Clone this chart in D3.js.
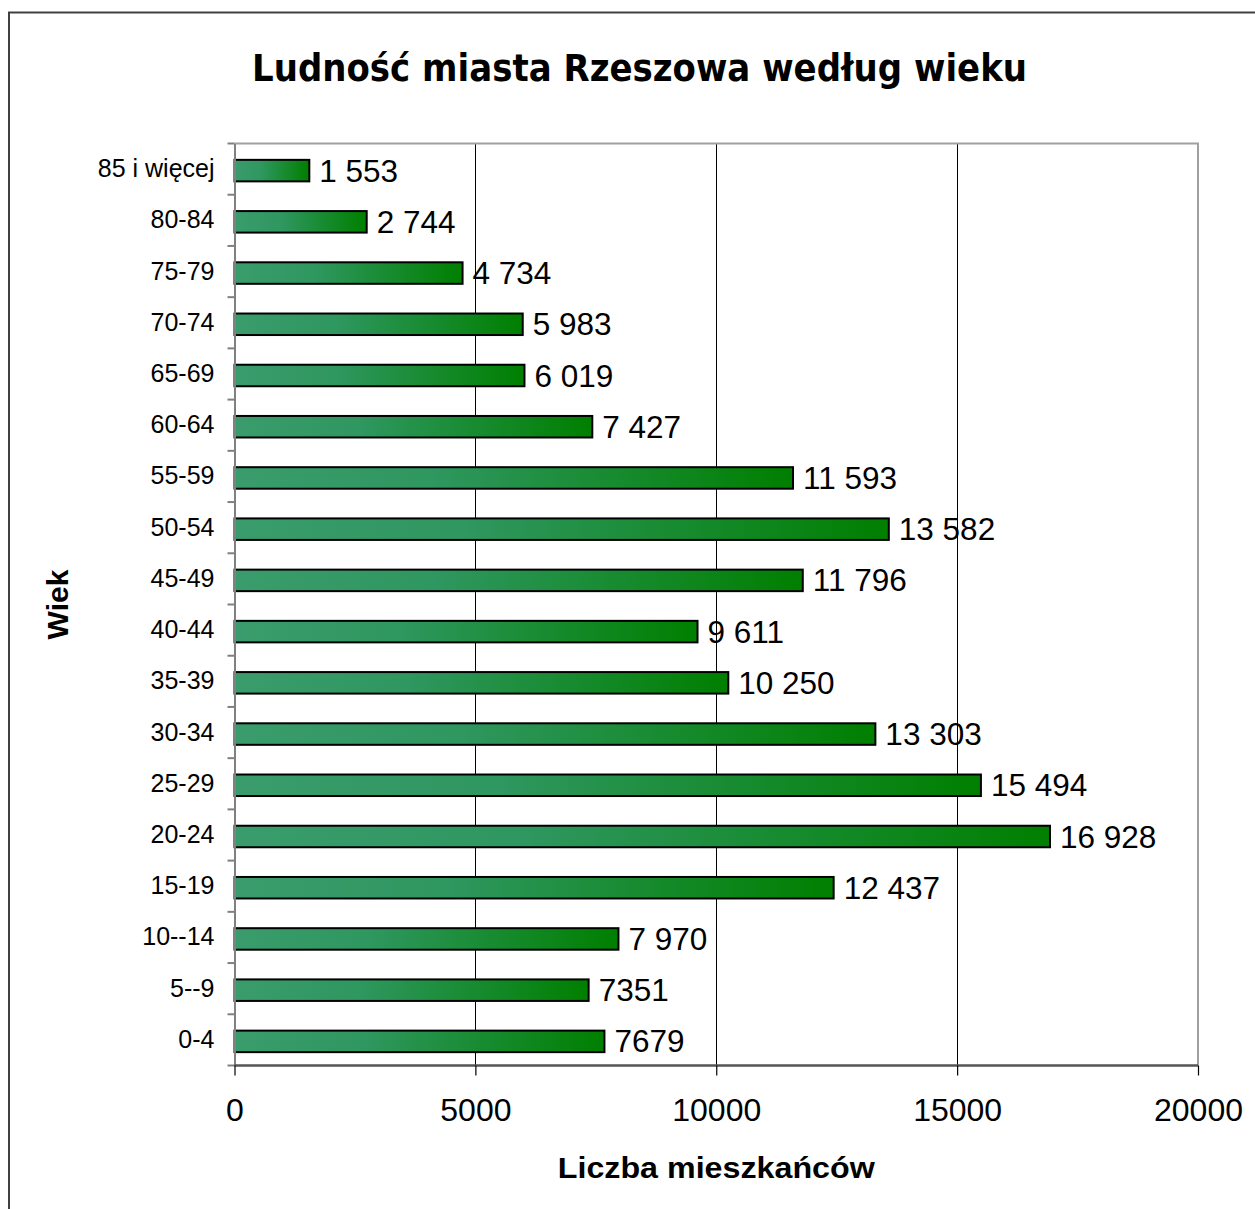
<!DOCTYPE html>
<html>
<head>
<meta charset="utf-8">
<script src="https://cdn.jsdelivr.net/npm/d3@7"></script>
<style>
html,body{margin:0;padding:0;background:#fff;}
svg{display:block;}
</style>
</head>
<body>
<script>
const categories = ["85 i więcej","80-84","75-79","70-74","65-69","60-64","55-59","50-54","45-49","40-44","35-39","30-34","25-29","20-24","15-19","10--14","5--9","0-4"];
const values = [1553,2744,4734,5983,6019,7427,11593,13582,11796,9611,10250,13303,15494,16928,12437,7970,7351,7679];
const valueLabels = ["1 553","2 744","4 734","5 983","6 019","7 427","11 593","13 582","11 796","9 611","10 250","13 303","15 494","16 928","12 437","7 970","7351","7679"];
const xTicks = [0,5000,10000,15000,20000];
const title = "Ludność miasta Rzeszowa według wieku";
const xTitle = "Liczba mieszkańców";
const yTitle = "Wiek";

const W = 1255, H = 1209;
const plot = {left:234.5, right:1198, top:143.5, bottom:1065.5};
const svg = d3.select("body").append("svg").attr("width",W).attr("height",H);

// gradient
const defs = svg.append("defs");
const grad = defs.append("linearGradient").attr("id","barGrad").attr("x1","0").attr("x2","1").attr("y1","0").attr("y2","0");
grad.append("stop").attr("offset","0%").attr("stop-color","#3a9c6c");
grad.append("stop").attr("offset","35%").attr("stop-color","#2f9760");
grad.append("stop").attr("offset","100%").attr("stop-color","#007f00");

// outer frame
svg.append("rect").attr("x",9).attr("y",12.5).attr("width",W+20).attr("height",H+20)
  .attr("fill","none").attr("stroke","#404040").attr("stroke-width",2);

const x = d3.scaleLinear().domain([0,20000]).range([plot.left, plot.right]);
const y = d3.scaleBand().domain(categories).range([plot.top, plot.bottom]).padding(0);

// gridlines
svg.append("g").selectAll("line").data(xTicks.filter(t=>t>0 && t<20000)).join("line")
  .attr("x1",d=>Math.round(x(d))+0.5).attr("x2",d=>Math.round(x(d))+0.5)
  .attr("y1",plot.top).attr("y2",plot.bottom)
  .attr("stroke","#000").attr("stroke-width",1);

// plot border top/right
svg.append("path")
  .attr("d",`M${plot.left},${plot.top}H${plot.right}V${plot.bottom}`)
  .attr("fill","none").attr("stroke","#a0a0a0").attr("stroke-width",2);

// bars
const bh = y.bandwidth()*0.42;
svg.append("g").selectAll("rect").data(values).join("rect")
  .attr("x",x(0))
  .attr("y",(d,i)=>y(categories[i]) + (y.bandwidth()-bh)/2 + 1.5)
  .attr("width",d=>x(d)-x(0))
  .attr("height",bh)
  .attr("fill","url(#barGrad)")
  .attr("stroke","#000").attr("stroke-width",2);

// value labels
svg.append("g").selectAll("text").data(values).join("text")
  .attr("x",d=>x(d)+10)
  .attr("y",(d,i)=>y(categories[i]) + y.bandwidth()/2 + 1.5)
  .attr("dominant-baseline","central")
  .attr("font-family","'Liberation Sans', Arial, sans-serif")
  .attr("font-size",31.5)
  .attr("fill","#000")
  .text((d,i)=>valueLabels[i]);

// y axis
const yAxis = d3.axisLeft(y).tickSize(0).tickPadding(20);
const yg = svg.append("g").attr("transform",`translate(${plot.left},0)`).call(yAxis);
yg.select(".domain").attr("stroke","#808080").attr("stroke-width",2);
yg.selectAll("text").attr("font-family","'Liberation Sans', Arial, sans-serif").attr("font-size",25).attr("fill","#000");
// boundary ticks
const bounds = categories.map(c=>y(c)).concat([plot.bottom]);
svg.append("g").selectAll("line").data(bounds).join("line")
  .attr("x1",plot.left-7).attr("x2",plot.left)
  .attr("y1",d=>d).attr("y2",d=>d)
  .attr("stroke","#808080").attr("stroke-width",2);

// x axis
const xAxis = d3.axisBottom(x).tickValues(xTicks).tickFormat(d3.format("d")).tickSize(10).tickPadding(23);
const xg = svg.append("g").attr("transform",`translate(0,${plot.bottom})`).call(xAxis);
xg.select(".domain").attr("stroke","#555").attr("stroke-width",2.5).attr("d",`M${plot.left},0H${plot.right}`);
xg.selectAll(".tick line").attr("stroke","#000").attr("stroke-width",1.2);
xg.selectAll("text").attr("font-family","'Liberation Sans', Arial, sans-serif").attr("font-size",32).attr("fill","#000");

// titles
svg.append("text").attr("x",639.5).attr("y",81)
  .attr("text-anchor","middle")
  .attr("font-family","'DejaVu Sans', Verdana, sans-serif").attr("font-weight","bold")
  .attr("font-size",37)
  .attr("textLength",775).attr("lengthAdjust","spacingAndGlyphs")
  .text(title);

svg.append("text").attr("x",(plot.left+plot.right)/2).attr("y",1178)
  .attr("text-anchor","middle")
  .attr("font-family","'Liberation Sans', Arial, sans-serif").attr("font-weight","bold")
  .attr("font-size",30)
  .attr("textLength",317).attr("lengthAdjust","spacingAndGlyphs")
  .text(xTitle);

svg.append("text")
  .attr("transform",`translate(68,${(plot.top+plot.bottom)/2}) rotate(-90)`)
  .attr("text-anchor","middle")
  .attr("font-family","'Liberation Sans', Arial, sans-serif").attr("font-weight","bold")
  .attr("font-size",30)
  .text(yTitle);
</script>
</body>
</html>
